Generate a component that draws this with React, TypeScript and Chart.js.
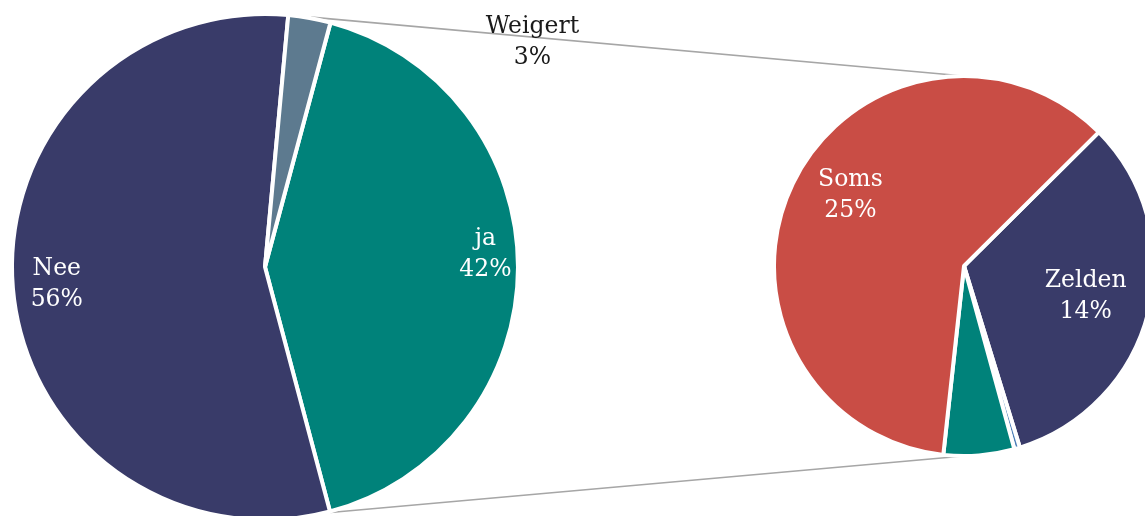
import React, { useEffect, useRef } from 'react';
import { Chart, registerables } from 'chart.js';

Chart.register(...registerables);

// Main pie (clockwise from the rotation start)
const leftCategories = ['ja', 'Nee', 'Weigert'];
const leftValues = [41.7, 55.6, 2.7];
const leftColors = ['#00827a', '#393b69', '#5d7a8f'];

// Breakdown of "ja" (clockwise from the rotation start)
const rightCategories = ['Zelden', 'Altijd', 'Vaak', 'Soms'];
const rightValues = [13.6, 0.2, 2.5, 25.3];
const rightColors = ['#393b69', '#4d7fb8', '#00827a', '#c94d45'];

// label placement: r = fraction of radius, a = optional angle (deg clockwise from 12 o'clock)
type Place = { r: number; a?: number; color: string } | null;
const leftPlaces: Place[] = [
  { r: 0.873, a: 86.6, color: '#ffffff' },
  { r: 0.826, color: '#ffffff' },
  { r: 1.38, a: 50, color: '#1a1a1a' },
];
const rightPlaces: Place[] = [
  { r: 0.66, color: '#ffffff' },
  null,
  { r: 1.17, color: '#1a1a1a' },
  { r: 0.705, a: 302, color: '#ffffff' },
];

const FONT = '23.5px "DejaVu Serif", "Liberation Serif", serif';

function labelPlugin(places: Place[], labels: string[], values: number[]) {
  return {
    id: 'sliceLabels',
    afterDatasetsDraw(chart: any) {
      const ctx = chart.ctx;
      const meta = chart.getDatasetMeta(0);
      meta.data.forEach((arc: any, i: number) => {
        const p = places[i];
        if (!p) return;
        const { x, y, startAngle, endAngle, outerRadius } = arc.getProps(
          ['x', 'y', 'startAngle', 'endAngle', 'outerRadius'],
          true
        );
        const ang = p.a !== undefined ? ((p.a - 90) * Math.PI) / 180 : (startAngle + endAngle) / 2;
        const lx = x + Math.cos(ang) * outerRadius * p.r;
        const ly = y + Math.sin(ang) * outerRadius * p.r;
        ctx.save();
        ctx.font = FONT;
        ctx.fillStyle = p.color;
        ctx.textAlign = 'center';
        ctx.textBaseline = 'middle';
        ctx.fillText(labels[i], lx, ly - 15.5);
        ctx.fillText(Math.round(values[i]) + '%', lx, ly + 15.5);
        ctx.restore();
      });
    },
  };
}

export default function App() {
  const leftRef = useRef<HTMLCanvasElement>(null);
  const rightRef = useRef<HTMLCanvasElement>(null);

  useEffect(() => {
    document.body.style.margin = '0';
    const rightCanvas = rightRef.current!;
    const right = new Chart(rightCanvas, {
      type: 'pie',
      data: {
        labels: rightCategories,
        datasets: [
          {
            data: rightValues,
            backgroundColor: rightColors,
            borderColor: '#ffffff',
            borderWidth: 4,
          },
        ],
      },
      options: {
        responsive: false,
        animation: false,
        devicePixelRatio: 1,
        rotation: 45.2,
        events: [],
        plugins: { legend: { display: false }, tooltip: { enabled: false } },
      },
      plugins: [labelPlugin(rightPlaces, rightCategories, rightValues)],
    } as any);

    const connectorPlugin = {
      id: 'connectors',
      beforeDatasetsDraw(chart: any) {
        const ja = chart.getDatasetMeta(0).data[0];
        const rarc: any = right.getDatasetMeta(0).data[0];
        if (!ja || !rarc) return;
        const ox = rightCanvas.offsetLeft;
        const oy = rightCanvas.offsetTop;
        const R = ja.outerRadius + 1;
        const a1 = ja.startAngle - 0.08;
        const sx1 = ja.x + Math.cos(a1) * R;
        const sy1 = ja.y + Math.sin(a1) * R;
        const sx2 = ja.x + Math.cos(ja.endAngle) * R;
        const sy2 = ja.y + Math.sin(ja.endAngle) * R;
        const ex = rarc.x + ox;
        const eyTop = rarc.y - rarc.outerRadius + oy;
        const eyBot = rarc.y + rarc.outerRadius + oy;
        const ctx = chart.ctx;
        ctx.save();
        ctx.strokeStyle = '#a6a6a6';
        ctx.lineWidth = 1.7;
        ctx.beginPath();
        ctx.moveTo(sx1, sy1);
        ctx.lineTo(ex, eyTop);
        ctx.moveTo(sx2, sy2);
        ctx.lineTo(ex, eyBot);
        ctx.stroke();
        ctx.restore();
      },
    };

    const left = new Chart(leftRef.current!, {
      type: 'pie',
      data: {
        labels: leftCategories,
        datasets: [
          {
            data: leftValues,
            backgroundColor: leftColors,
            borderColor: '#ffffff',
            borderWidth: 4,
          },
        ],
      },
      options: {
        responsive: false,
        animation: false,
        devicePixelRatio: 1,
        rotation: 15,
        events: [],
        layout: { padding: { left: 10, top: 12, right: 625, bottom: 18 } },
        plugins: { legend: { display: false }, tooltip: { enabled: false } },
      },
      plugins: [connectorPlugin, labelPlugin(leftPlaces, leftCategories, leftValues)],
    } as any);

    return () => {
      left.destroy();
      right.destroy();
    };
  }, []);

  return (
    <div
      style={{
        position: 'relative',
        width: 1145,
        height: 516,
        overflow: 'hidden',
        background: '#ffffff',
      }}
    >
      <canvas
        ref={leftRef}
        width={1145}
        height={540}
        style={{ position: 'absolute', left: 0, top: 0, width: 1145, height: 540 }}
      />
      <canvas
        ref={rightRef}
        width={384}
        height={384}
        style={{ position: 'absolute', left: 772, top: 74, width: 384, height: 384 }}
      />
    </div>
  );
}
